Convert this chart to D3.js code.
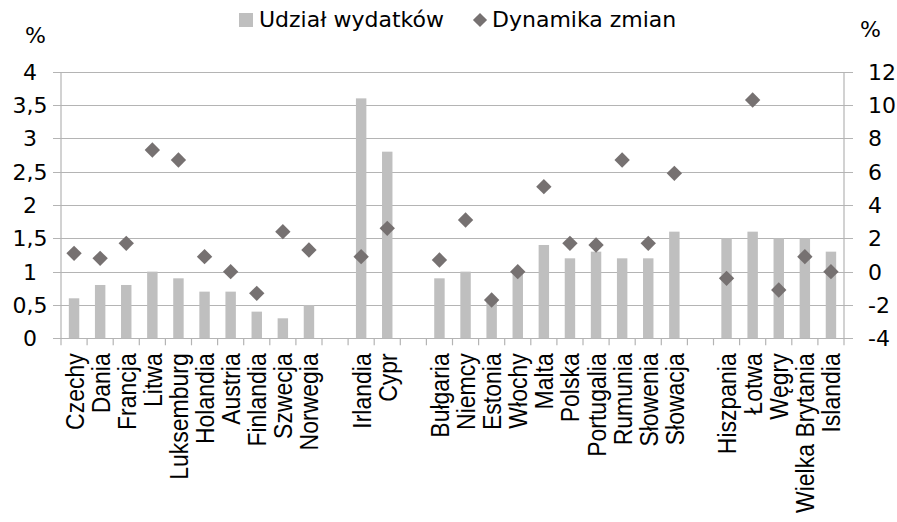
<!DOCTYPE html>
<html>
<head>
<meta charset="utf-8">
<script src="https://cdn.jsdelivr.net/npm/d3@7"></script>
<style>
  body { margin: 0; background: #fff; }
  text { font-family: "DejaVu Sans", sans-serif; fill: #000; }
  .cat text { font-family: "Liberation Sans", Arial, sans-serif; }
</style>
</head>
<body>
<svg id="chart" width="897" height="522"></svg>
<script>
// countries, "" = empty gap slot between groups
var countries = ["Czechy", "Dania", "Francja", "Litwa", "Luksemburg", "Holandia", "Austria",
  "Finlandia", "Szwecja", "Norwegia", "", "Irlandia", "Cypr", "", "Bułgaria", "Niemcy",
  "Estonia", "Włochy", "Malta", "Polska", "Portugalia", "Rumunia", "Słowenia", "Słowacja", "",
  "Hiszpania", "Łotwa", "Węgry", "Wielka Brytania", "Islandia"];

// udział wydatków (left axis, %)
var shareValues = [0.6, 0.8, 0.8, 1.0, 0.9, 0.7, 0.7, 0.4, 0.3, 0.5, null, 3.6, 2.8, null,
  0.9, 1.0, 0.6, 1.0, 1.4, 1.2, 1.3, 1.2, 1.2, 1.6, null, 1.5, 1.6, 1.5, 1.5, 1.3];

// dynamika zmian (right axis, %)
var changeValues = [1.1, 0.8, 1.7, 7.3, 6.7, 0.9, 0.0, -1.3, 2.4, 1.3, null, 0.9, 2.6, null,
  0.7, 3.1, -1.7, 0.0, 5.1, 1.7, 1.6, 6.7, 1.7, 5.9, null, -0.4, 10.3, -1.1, 0.9, 0.0];

var leftTicks = [0, 0.5, 1, 1.5, 2, 2.5, 3, 3.5, 4];
var rightTicks = [-4, -2, 0, 2, 4, 6, 8, 10, 12];
var legendLabels = ["Udział wydatków", "Dynamika zmian"];

var barColor = "#bfbfbf", dotColor = "#767171", gridColor = "#b4b4b4";

var svg = d3.select("#chart");
var plotLeft = 61, plotRight = 844, plotTop = 71.7, plotBottom = 338.3;

var x = d3.scaleBand().domain(d3.range(countries.length)).range([plotLeft, plotRight]);
var yL = d3.scaleLinear().domain([0, 4]).range([plotBottom, plotTop]);
var yR = d3.scaleLinear().domain([-4, 12]).range([plotBottom, plotTop]);
var fmt = function(d){ return String(d).replace(".", ","); };

// gridlines (extend past both axes as tick marks)
svg.append("g").selectAll("line").data(leftTicks).enter().append("line")
  .attr("x1", plotLeft - 8).attr("x2", plotRight + 9)
  .attr("y1", function(d){ return Math.round(yL(d)) + 0.5; })
  .attr("y2", function(d){ return Math.round(yL(d)) + 0.5; })
  .attr("stroke", gridColor).attr("stroke-width", 1.2);

// vertical axis lines
[plotLeft, plotRight].forEach(function(px){
  svg.append("line").attr("x1", px).attr("x2", px)
    .attr("y1", Math.round(plotTop) + 0.5).attr("y2", Math.round(plotBottom) + 0.5)
    .attr("stroke", gridColor).attr("stroke-width", 1.2);
});

// category ticks
var bounds = d3.range(countries.length + 1).map(function(i){ return plotLeft + i * x.step(); });
svg.append("g").selectAll("line").data(bounds).enter().append("line")
  .attr("x1", function(d){ return d; }).attr("x2", function(d){ return d; })
  .attr("y1", plotBottom).attr("y2", plotBottom + 7)
  .attr("stroke", gridColor).attr("stroke-width", 1.2);

// bars
var barW = x.step() * 0.4;
shareValues.forEach(function(v, i){
  if (v === null) return;
  svg.append("rect")
    .attr("x", x(i) + (x.step() - barW) / 2)
    .attr("y", yL(v))
    .attr("width", barW)
    .attr("height", yL(0) - yL(v))
    .attr("fill", barColor);
});

// diamonds
var diamond = d3.symbol(d3.symbolSquare, 118);
changeValues.forEach(function(v, i){
  if (v === null) return;
  svg.append("path")
    .attr("d", diamond())
    .attr("transform", "translate(" + (x(i) + x.step() / 2) + "," + yR(v) + ") rotate(45)")
    .attr("fill", dotColor);
});

// left tick labels
svg.append("g").selectAll("text").data(leftTicks).enter().append("text")
  .attr("x", 30).attr("y", function(d){ return yL(d); })
  .attr("dy", "0.36em").attr("text-anchor", "middle")
  .style("font-size", "22px").text(fmt);

// right tick labels
svg.append("g").selectAll("text").data(rightTicks).enter().append("text")
  .attr("x", 868).attr("y", function(d){ return yR(d); })
  .attr("dy", "0.36em")
  .style("font-size", "22px").text(fmt);

// unit labels
svg.append("text").attr("x", 25).attr("y", 43).style("font-size", "22px").text("%");
svg.append("text").attr("x", 860).attr("y", 37).style("font-size", "22px").text("%");

// category labels
var cat = svg.append("g").attr("class", "cat");
countries.forEach(function(c, i){
  if (!c) return;
  var cx = x(i) + x.step() / 2;
  cat.append("text")
    .attr("transform", "translate(" + cx + "," + (plotBottom + 15) + ") rotate(-90) scale(1,1.15)")
    .attr("text-anchor", "end").attr("dy", "0.36em")
    .style("font-size", "23px").text(c);
});

// legend
svg.append("rect").attr("x", 239).attr("y", 13).attr("width", 14).attr("height", 14).attr("fill", barColor);
svg.append("text").attr("x", 259).attr("y", 27).style("font-size", "22px").text(legendLabels[0]);
svg.append("path").attr("d", d3.symbol(d3.symbolSquare, 100)())
  .attr("transform", "translate(480,20) rotate(45)").attr("fill", dotColor);
svg.append("text").attr("x", 492).attr("y", 27).style("font-size", "22px").text(legendLabels[1]);
</script>
</body>
</html>
